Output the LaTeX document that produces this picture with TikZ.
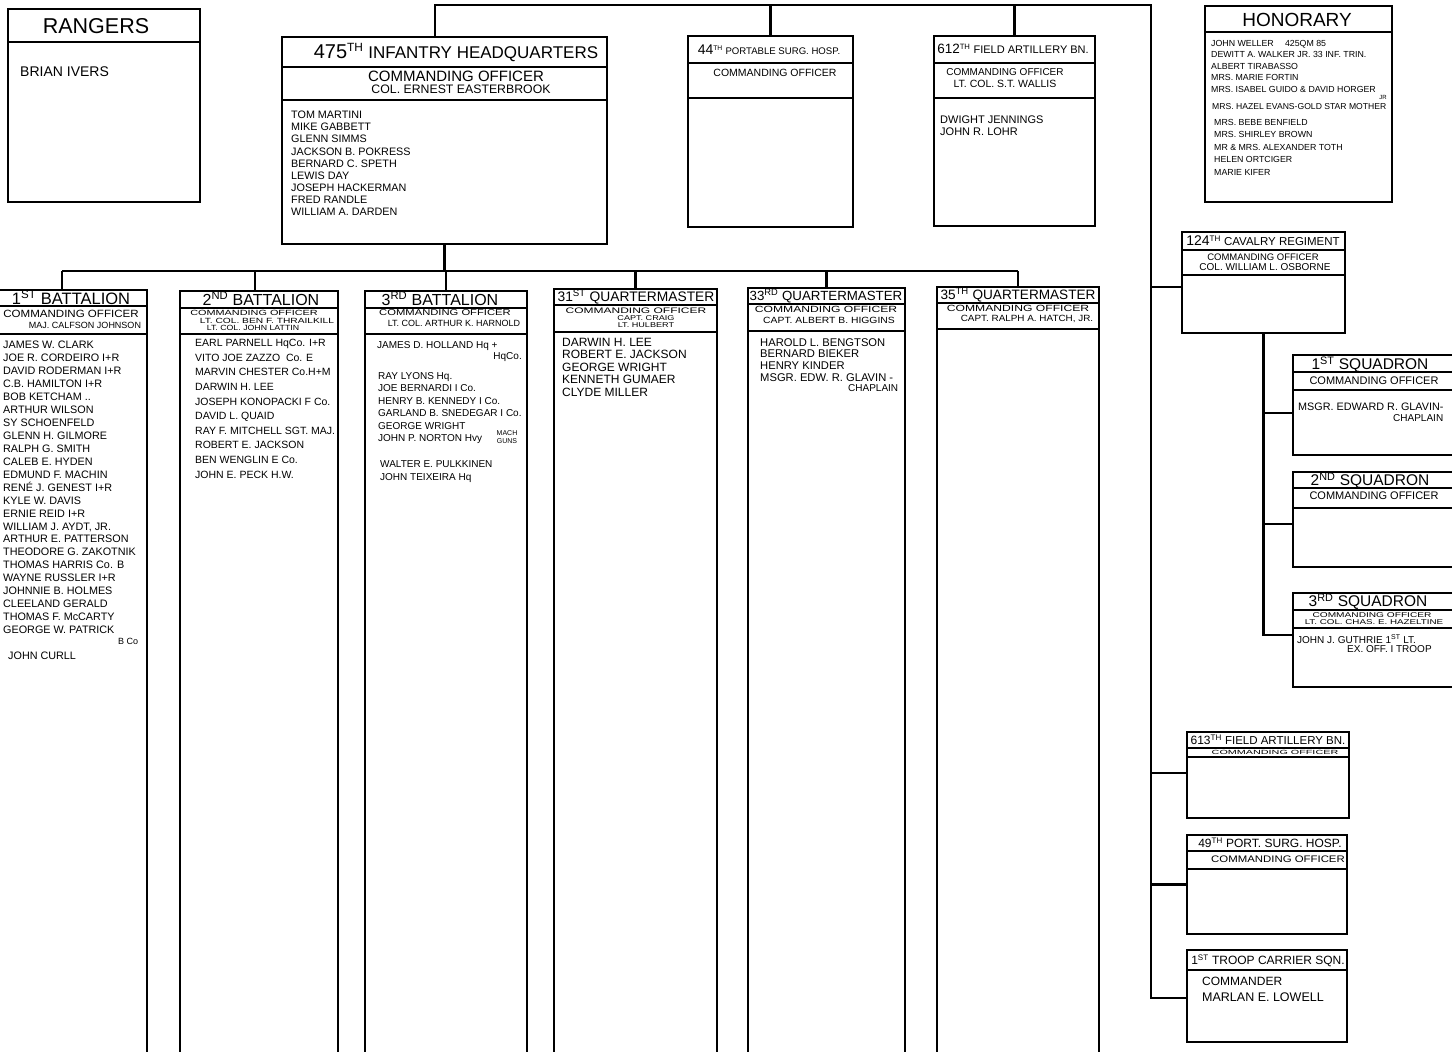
\documentclass[tikz,border=0pt]{standalone}
\usepackage{fontspec}
\usepackage{graphicx}
\setmainfont{Liberation Sans}
\usetikzlibrary{fit}
\newcommand\fs[1]{\fontsize{#1}{#1}\selectfont}
\newcommand\fsl[2]{\fontsize{#1}{#2}\selectfont}
\newcommand\sps[1]{\textsuperscript{#1}}
\newcommand\hsc[2]{\scalebox{#1}[1]{#2}}
\newcommand\mkbox[6]{%
  \node[obox, fit={(#2,#3) (#4,#5)}] (#1) {};
  \foreach \yy in {#6} {\draw[band] (#2,\yy) -- (#4,\yy);}
}
\begin{document}
\begin{tikzpicture}[x=1pt,y=-1pt,
  obox/.style={draw, line width=2.3pt, inner sep=0pt},
  band/.style={line width=2pt},
  conn/.style={line width=2.2pt},
  txt/.style={inner sep=0pt, anchor=west, text depth=0pt},
  ctxt/.style={inner sep=0pt, anchor=center, text depth=0pt},
  lst/.style={inner sep=0pt, anchor=north west, align=left}]
\useasboundingbox (0,0) rectangle (1452,1052);
\fill[white] (0,0) rectangle (1452,1052);
\clip (0,0) rectangle (1452,1052);

% ---------- top row ----------
\mkbox{rng}{8}{9}{200}{202}{42}
\node[ctxt, font=\fs{21.5}] (rngT) at (96,26) {RANGERS};
\node[txt, font=\fs{14}] (rngN) at (20,72) {BRIAN IVERS};

\mkbox{hq}{282}{37}{607}{244}{67,100}
\node[ctxt, font=\fs{17}] (hqT) at (456,51) {{\fs{20}475}\sps{TH} INFANTRY HEADQUARTERS};
\node[ctxt, font=\fs{15}] (hqC) at (456,76.5) {COMMANDING OFFICER};
\node[ctxt, font=\fs{12.3}] (hqO) at (461,89.5) {COL. ERNEST EASTERBROOK};
\node[lst, font=\fsl{10.8}{12.1}] (hqL) at (291,111) {TOM MARTINI\\MIKE GABBETT\\GLENN SIMMS\\JACKSON B. POKRESS\\BERNARD C. SPETH\\LEWIS DAY\\JOSEPH HACKERMAN\\FRED RANDLE\\WILLIAM A. DARDEN};

\mkbox{psh}{688}{36}{853}{227}{63,98}
\node[ctxt, font=\fs{9.6}] (pshT) at (769,49.5) {{\fs{14}44}\sps{TH} PORTABLE SURG. HOSP.};
\node[ctxt, font=\fs{10.5}] (pshC) at (775,73) {COMMANDING OFFICER};

\mkbox{fa}{934}{36}{1095}{226}{63,98}
\node[ctxt, font=\fs{11}] (faT) at (1013,48.5) {{\fs{13.5}612}\sps{TH} FIELD ARTILLERY BN.};
\node[ctxt, font=\fs{10}] (faC) at (1005,72) {COMMANDING OFFICER};
\node[ctxt, font=\fs{10.5}] (faO) at (1005,84) {LT. COL. S.T. WALLIS};
\node[lst, font=\fsl{11}{12}] (faL) at (940,116) {DWIGHT JENNINGS\\JOHN R. LOHR};

\mkbox{hon}{1205}{6}{1392}{202}{32}
\node[ctxt, font=\fs{19}] (honT) at (1297,20) {HONORARY};
\node[lst, font=\fsl{8.8}{11.5}] (honA) at (1211,39.8) {JOHN WELLER \quad 425QM 85\\DEWITT A. WALKER JR. 33 INF. TRIN.\\ALBERT TIRABASSO\\MRS. MARIE FORTIN\\MRS. ISABEL GUIDO \& DAVID HORGER};
\node[ctxt, font=\fs{6}] (honJ) at (1383,97) {JR};
\node[txt, font=\fs{8.6}] (honB) at (1212,106) {MRS. HAZEL EVANS-GOLD STAR MOTHER};
\node[lst, font=\fsl{8.8}{12.5}] (honC) at (1214,119) {MRS. BEBE BENFIELD\\MRS. SHIRLEY BROWN\\MR \& MRS. ALEXANDER TOTH\\HELEN ORTCIGER\\MARIE KIFER};

% ---------- right column ----------
\mkbox{cav}{1182}{232}{1345}{333}{250,275}
\node[ctxt, font=\fs{11.5}] (cavT) at (1263,240.5) {{\fs{14}124}\sps{TH} CAVALRY REGIMENT};
\node[ctxt, font=\fs{9.5}] (cavC) at (1263,257) {COMMANDING OFFICER};
\node[ctxt, font=\fs{10}] (cavO) at (1265,267) {COL. WILLIAM L. OSBORNE};

\mkbox{sqa}{1293}{355}{1470}{455}{372,390}
\node[ctxt, font=\fs{15.5}] (sqaT) at (1370,363) {1\sps{ST} SQUADRON};
\node[ctxt, font=\fs{11}] (sqaC) at (1374,381) {COMMANDING OFFICER};
\node[txt, font=\fs{10.8}] (sqaN) at (1298,407) {MSGR. EDWARD R. GLAVIN-};
\node[txt, font=\fs{10}] (sqaP) at (1393,418) {CHAPLAIN};

\mkbox{sqb}{1293}{472}{1470}{567}{488,508}
\node[ctxt, font=\fs{15.5}] (sqbT) at (1370,479) {2\sps{ND} SQUADRON};
\node[ctxt, font=\fs{11}] (sqbC) at (1374,496) {COMMANDING OFFICER};

\mkbox{sqc}{1293}{593}{1470}{687}{610,628}
\node[ctxt, font=\fs{15.5}] (sqcT) at (1368,600) {3\sps{RD} SQUADRON};
\node[ctxt, font=\fs{7}] (sqcC) at (1372,615) {\hsc{1.45}{COMMANDING OFFICER}};
\node[ctxt, font=\fs{7}] (sqcO) at (1374,622.5) {\hsc{1.4}{LT. COL. CHAS. E. HAZELTINE}};
\node[txt, font=\fs{10}] (sqcN) at (1297,639) {JOHN J. GUTHRIE 1\sps{ST} LT.};
\node[txt, font=\fs{10}] (sqcE) at (1347,649) {EX. OFF. I TROOP};

\mkbox{fb}{1187}{732}{1349}{818}{748,757}
\node[ctxt, font=\fs{11.5}] (fbT) at (1268,739.5) {{\fs{12}613}\sps{TH} FIELD ARTILLERY BN.};
\node[ctxt, font=\fs{6}] (fbC) at (1275,752.5) {\hsc{1.8}{COMMANDING OFFICER}};

\mkbox{sh}{1187}{835}{1347}{934}{851,869}
\node[ctxt, font=\fs{12}] (shT) at (1270,842.5) {49\sps{TH} PORT. SURG. HOSP.};
\node[ctxt, font=\fs{9.5}] (shC) at (1278,859) {\hsc{1.2}{COMMANDING OFFICER}};

\mkbox{tcs}{1187}{950}{1347}{1042}{970}
\node[ctxt, font=\fs{12}] (tcsT) at (1268,959.5) {1\sps{ST} TROOP CARRIER SQN.};
\node[txt, font=\fs{12}] (tcsC) at (1202,981) {COMMANDER};
\node[txt, font=\fs{12.5}] (tcsN) at (1202,997) {MARLAN E. LOWELL};

% ---------- lower row ----------
\mkbox{ba}{-3}{290}{147}{1070}{306,334}
\node[ctxt, font=\fs{16.5}] (baT) at (71,297.5) {1\sps{ST} BATTALION};
\node[ctxt, font=\fs{10.5}] (baC) at (71,314) {\hsc{1.1}{COMMANDING OFFICER}};
\node[ctxt, font=\fs{9}] (baO) at (85,325) {MAJ. CALFSON JOHNSON};
\node[lst, font=\fsl{10.8}{12.95}] (baL) at (3,341) {JAMES W. CLARK\\JOE R. CORDEIRO I+R\\DAVID RODERMAN I+R\\C.B. HAMILTON I+R\\BOB KETCHAM ..\\ARTHUR WILSON\\SY SCHOENFELD\\GLENN H. GILMORE\\RALPH G. SMITH\\CALEB E. HYDEN\\EDMUND F. MACHIN\\RENÉ J. GENEST I+R\\KYLE W. DAVIS\\ERNIE REID I+R\\WILLIAM J. AYDT, JR.\\ARTHUR E. PATTERSON\\THEODORE G. ZAKOTNIK\\THOMAS HARRIS Co. B\\WAYNE RUSSLER I+R\\JOHNNIE B. HOLMES\\CLEELAND GERALD\\THOMAS F. McCARTY\\GEORGE W. PATRICK};
\node[txt, font=\fs{9}] (baB) at (118,641) {B Co};
\node[txt, font=\fs{10.8}] (baJ) at (8,656) {JOHN CURLL};

\mkbox{bb}{180}{291}{338}{1070}{308,334}
\node[ctxt, font=\fs{16}] (bbT) at (261,298.5) {2\sps{ND} BATTALION};
\node[ctxt, font=\fs{7.5}] (bbC) at (254,313) {\hsc{1.45}{COMMANDING OFFICER}};
\node[ctxt, font=\fs{7.5}] (bbO) at (267,320.5) {\hsc{1.36}{LT. COL. BEN F. THRAILKILL}};
\node[ctxt, font=\fs{7.5}] (bbP) at (253,328) {\hsc{1.17}{LT. COL. JOHN LATTIN}};
\node[lst, font=\fsl{10.5}{14.6}] (bbL) at (195,339.2) {EARL PARNELL HqCo. I+R\\VITO JOE ZAZZO \ Co. E\\MARVIN CHESTER Co.H+M\\DARWIN H. LEE\\JOSEPH KONOPACKI F Co.\\DAVID L. QUAID\\RAY F. MITCHELL SGT. MAJ.\\ROBERT E. JACKSON\\BEN WENGLIN E Co.\\JOHN E. PECK H.W.};

\mkbox{bc}{365}{291}{527}{1070}{308,334}
\node[ctxt, font=\fs{16}] (bcT) at (440,298.5) {3\sps{RD} BATTALION};
\node[ctxt, font=\fs{8.5}] (bcC) at (445,313) {\hsc{1.32}{COMMANDING OFFICER}};
\node[ctxt, font=\fs{9}] (bcO) at (454,323.5) {LT. COL. ARTHUR K. HARNOLD};
\node[txt, font=\fs{10}] (bcA) at (377,345) {JAMES D. HOLLAND Hq +};
\node[txt, font=\fs{10}, anchor=east] (bcB) at (522,356) {HqCo.};
\node[lst, font=\fsl{10}{12.4}] (bcL) at (378,372.4) {RAY LYONS Hq.\\JOE BERNARDI I Co.\\HENRY B. KENNEDY I Co.\\GARLAND B. SNEDEGAR I Co.\\GEORGE WRIGHT\\JOHN P. NORTON Hvy};
\node[inner sep=0pt, align=center, font=\fsl{7}{8}] (bcM) at (507,437) {MACH\\GUNS};
\node[lst, font=\fsl{10}{13}] (bcW) at (380,460.4) {WALTER E. PULKKINEN\\JOHN TEIXEIRA Hq};

\mkbox{qa}{554}{289}{717}{1070}{305,332}
\node[ctxt, font=\fs{13.8}] (qaT) at (636,296) {31\sps{ST} QUARTERMASTER};
\node[ctxt, font=\fs{8}] (qaC) at (636,310.5) {\hsc{1.5}{COMMANDING OFFICER}};
\node[ctxt, font=\fs{7}] (qaO) at (646,318) {\hsc{1.3}{CAPT. CRAIG}};
\node[ctxt, font=\fs{7}] (qaP) at (646,325) {\hsc{1.3}{LT. HULBERT}};
\node[lst, font=\fsl{12}{12.5}] (qaL) at (562,337.7) {DARWIN H. LEE\\ROBERT E. JACKSON\\GEORGE WRIGHT\\KENNETH GUMAER\\CLYDE MILLER};

\mkbox{qb}{748}{288}{905}{1070}{304,331}
\node[ctxt, font=\fs{13.3}] (qbT) at (826,295) {33\sps{RD} QUARTERMASTER};
\node[ctxt, font=\fs{9}] (qbC) at (826,309.5) {\hsc{1.35}{COMMANDING OFFICER}};
\node[ctxt, font=\fs{9}] (qbO) at (829,320) {\hsc{1.15}{CAPT. ALBERT B. HIGGINS}};
\node[lst, font=\fsl{11.2}{11.7}] (qbL) at (760,338) {HAROLD L. BENGTSON\\BERNARD BIEKER\\HENRY KINDER\\MSGR. EDW. R. GLAVIN -};
\node[txt, font=\fs{10}] (qbP) at (848,388) {CHAPLAIN};

\mkbox{qc}{937}{287}{1099}{1070}{303,329}
\node[ctxt, font=\fs{13.6}] (qcT) at (1018,293.5) {35\sps{TH} QUARTERMASTER};
\node[ctxt, font=\fs{9}] (qcC) at (1018,308.5) {\hsc{1.35}{COMMANDING OFFICER}};
\node[ctxt, font=\fs{9}] (qcO) at (1027,318) {\hsc{1.1}{CAPT. RALPH A. HATCH, JR.}};

% ---------- connectors ----------
\coordinate (tj) at (435,5);
\coordinate (tr) at (1151,5);
\coordinate (tcsj) at ([yshift=-2pt]tcs.west);
\draw[conn] (hq.north -| tj) -- (tj) -- (tr) -- (tr |- tcsj) -- (tcsj);
\draw[conn] (psh.north) -- (psh.north |- tj);
\draw[conn] (fa.north) -- (fa.north |- tj);
\coordinate (cavj) at ([yshift=-4.5pt]cav.west);
\draw[conn] (tr |- cavj) -- (cavj);
\coordinate (fbj) at ([yshift=2pt]fb.west);
\draw[conn] (tr |- fbj) -- (fbj);
\draw[conn] (tr |- sh.west) -- (sh.west);

\coordinate (sqaj) at ([yshift=-8pt]sqa.west);
\coordinate (sqbj) at ([yshift=-4.5pt]sqb.west);
\coordinate (sqcj) at ([yshift=5pt]sqc.west);
\draw[conn] (cav.south) -- (cav.south |- sqcj) -- (sqcj);
\draw[conn] (cav.south |- sqaj) -- (sqaj);
\draw[conn] (cav.south |- sqbj) -- (sqbj);

\coordinate (lj) at (0,271);
\coordinate (baj) at ([xshift=-10pt]ba.north);
\coordinate (bbj) at ([xshift=-4pt]bb.north);
\draw[conn] (hq.south) -- (hq.south |- lj);
\draw[conn] (baj |- lj) -- (qc.north |- lj);
\draw[conn] (baj |- lj) -- (baj);
\draw[conn] (bbj |- lj) -- (bbj);
\draw[conn] (bc.north |- lj) -- (bc.north);
\draw[conn] (qa.north |- lj) -- (qa.north);
\draw[conn] (qb.north |- lj) -- (qb.north);
\draw[conn] (qc.north |- lj) -- (qc.north);
\end{tikzpicture}
\end{document}
